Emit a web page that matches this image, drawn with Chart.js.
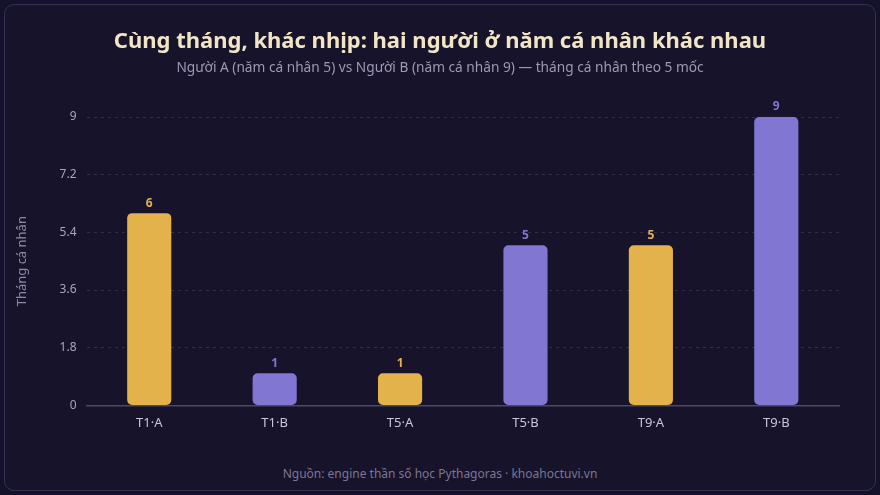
<!DOCTYPE html>
<html>
<head>
<meta charset="utf-8">
<script src="https://cdn.jsdelivr.net/npm/chart.js@4"></script>
<style>
  html, body { margin: 0; padding: 0; background: #14112a; }
  body { width: 880px; height: 495px; position: relative; overflow: hidden; }
  .card {
    position: absolute; left: 4px; top: 4px; width: 870px; height: 485px;
    background: #16132b; border: 1px solid #35314f; border-radius: 10px;
    font-family: "Noto Sans", sans-serif;
  }
  .chart-box { position: absolute; left: 0; top: 0; width: 870px; height: 428px; }
  .title {
    position: absolute; left: 0; right: 0; top: 19px; text-align: center;
    font-size: 22px; line-height: 30px; font-weight: bold; color: #f1e5c6;
  }
  .subtitle {
    position: absolute; left: 0; right: 0; top: 53px; text-align: center;
    font-size: 13.7px; line-height: 18px; color: #9d99b5;
  }
  .footer {
    position: absolute; left: 0; right: 0; top: 460px; text-align: center;
    font-size: 12px; color: #7b7794;
  }
</style>
</head>
<body>
<div class="card">
  <div class="chart-box"><canvas id="myChart"></canvas></div>
  <div class="title">Cùng tháng, khác nhịp: hai người ở năm cá nhân khác nhau</div>
  <div class="subtitle">Người A (năm cá nhân 5) vs Người B (năm cá nhân 9) — tháng cá nhân theo 5 mốc</div>
  <div class="footer">Nguồn: engine thần số học Pythagoras · khoahoctuvi.vn</div>
</div>
<script>
//data
const categories = ["T1·A", "T1·B", "T5·A", "T5·B", "T9·A", "T9·B"];
const monthValues = [6, 1, 1, 5, 5, 9];
const yTicks = [0, 1.8, 3.6, 5.4, 7.2, 9];

const GOLD = "#e3b24a";
const PURPLE = "#8276d3";
const barColors = categories.map(c => c.endsWith("A") ? GOLD : PURPLE);

//value labels above the bars
const valueLabels = {
  id: 'valueLabels',
  afterDatasetsDraw(chart) {
    const ctx = chart.ctx;
    const meta = chart.getDatasetMeta(0);
    ctx.save();
    ctx.font = 'bold 12px "Noto Sans", sans-serif';
    ctx.textAlign = 'center';
    ctx.textBaseline = 'bottom';
    meta.data.forEach((bar, i) => {
      ctx.fillStyle = barColors[i];
      ctx.fillText(monthValues[i], bar.x, bar.y - 4);
    });
    ctx.restore();
  }
};

const data = {
  labels: categories,
  datasets: [{
    label: 'Tháng cá nhân',
    data: monthValues,
    backgroundColor: barColors,
    borderRadius: 5,
    borderSkipped: false,
    barPercentage: 0.44,
    categoryPercentage: 0.8,
  }]
};

const options = {
  responsive: true,
  maintainAspectRatio: false,
  animation: false,
  layout: { padding: { top: 112, left: 5, right: 36, bottom: 0 } },
  plugins: {
    legend: { display: false },
    tooltip: { enabled: false }
  },
  scales: {
    x: {
      grid: { display: false },
      border: { color: '#4d4968', width: 1.5 },
      ticks: { color: '#c9c6da', font: { family: '"Noto Sans", sans-serif', size: 13 }, padding: 2 }
    },
    y: {
      min: 0,
      max: 9,
      afterBuildTicks(axis) { axis.ticks = yTicks.map(v => ({ value: v })); },
      grid: { color: 'rgba(150,145,185,0.22)', drawTicks: false },
      border: { display: false, dash: [3, 4] },
      ticks: { color: '#a9a5c0', font: { family: '"Noto Sans", sans-serif', size: 12 }, padding: 10 },
      title: {
        display: true,
        text: 'Tháng cá nhân',
        color: '#8d89a6',
        font: { family: '"Noto Sans", sans-serif', size: 13 },
        padding: { bottom: 20 }
      }
    }
  }
};

const config = {
  type: 'bar',
  data,
  options,
  plugins: [valueLabels]
};

const myChart = new Chart(document.getElementById('myChart'), config);
</script>
</body>
</html>
